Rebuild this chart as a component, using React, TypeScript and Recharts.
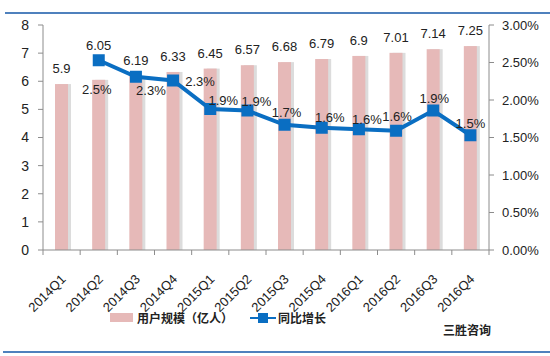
import { Bar, ComposedChart, LabelList, Line, XAxis, YAxis } from "recharts";

const quarters = [
  "2014Q1", "2014Q2", "2014Q3", "2014Q4",
  "2015Q1", "2015Q2", "2015Q3", "2015Q4",
  "2016Q1", "2016Q2", "2016Q3", "2016Q4",
];
// 用户规模（亿人）
const users = [5.9, 6.05, 6.19, 6.33, 6.45, 6.57, 6.68, 6.79, 6.9, 7.01, 7.14, 7.25];
// 同比增长 (%)
const growth = [null, 2.53, 2.31, 2.26, 1.88, 1.86, 1.67, 1.63, 1.61, 1.59, 1.86, 1.53];

const leftTicks = [0, 1, 2, 3, 4, 5, 6, 7, 8];
const rightTicks = [0, 0.5, 1, 1.5, 2, 2.5, 3];

// hand placed label offsets, like the excel original
const growthLabelOffset: [number, number][] = [
  [0, 0], [-2, 29], [15, 13], [27, 0], [13, -9], [9, -10],
  [2, -13], [8, -11], [8, -10], [1, -15], [1, -13], [0, -12],
];

const data = quarters.map((q, i) => ({ q, users: users[i], growth: growth[i] }));

const FONT = "'Liberation Sans', Arial, sans-serif";
const CJK = "'Noto Sans CJK SC', sans-serif";
const AXIS = "#8c8c8c";
const BAR = "#e6b9b8";
const LINE = "#0a6ec2";
const PLOT_W = 446;

const BarShape = (p: any) => {
  const { x, y, width, height } = p;
  return (
    <g>
      <rect x={x + 3} y={y} width={width} height={height} fill="#dcdcdc" />
      <rect x={x} y={y} width={width} height={height} fill={BAR} />
    </g>
  );
};

// category labels plus tick marks on the category boundaries
const XTick = ({ x, y, payload, index }: any) => {
  const half = PLOT_W / quarters.length / 2;
  const top = y - 8;
  return (
    <g>
      <line x1={x - half} y1={top} x2={x - half} y2={top + 5} stroke={AXIS} />
      {index === quarters.length - 1 && (
        <line x1={x + half} y1={top} x2={x + half} y2={top + 5} stroke={AXIS} />
      )}
      <text
        x={x + 5}
        y={y + 22}
        textAnchor="end"
        fontSize={13}
        fontFamily={FONT}
        fill="#222"
        transform={`rotate(-45 ${x + 5} ${y + 22})`}
      >
        {payload.value}
      </text>
    </g>
  );
};

const BarLabel = (p: any) => {
  const { x, y, width, value, index } = p;
  const lift = index === 1 ? 30 : 11;
  return (
    <text x={x + width / 2} y={y - lift} textAnchor="middle" fontSize={13} fontFamily={FONT} fill="#222">
      {value}
    </text>
  );
};

const GrowthLabel = (p: any) => {
  const { x, y, value, index } = p;
  if (value == null) return null;
  const [dx, dy] = growthLabelOffset[index];
  return (
    <text x={x + dx} y={y + dy + 5} textAnchor="middle" fontSize={13} fontFamily={FONT} fill="#222">
      {Number(value).toFixed(1) + "%"}
    </text>
  );
};

const Square = (p: any) => {
  const { cx, cy, index } = p;
  if (cx == null || cy == null || growth[index] == null) return <g key={index} />;
  return <rect key={index} x={cx - 6} y={cy - 6} width={12} height={12} fill={LINE} />;
};

export default function App() {
  return (
    <div style={{ position: "absolute", left: 0, top: 0, width: 550, height: 356, background: "#fff" }}>
      <div style={{ position: "absolute", left: 5, top: 12, width: 545, height: 2, background: "#4f81bd" }} />
      <div style={{ position: "absolute", left: 3, top: 351, width: 547, height: 2, background: "#4f81bd" }} />
      <ComposedChart
        width={550}
        height={356}
        data={data}
        margin={{ top: 25, right: 0, bottom: 46, left: 0 }}
      >
        <XAxis
          dataKey="q"
          height={60}
          stroke={AXIS}
          tickLine={false}
          interval={0}
          tick={<XTick />}
        />
        <YAxis
          yAxisId="left"
          width={43}
          domain={[0, 8]}
          ticks={leftTicks}
          interval={0}
          stroke={AXIS}
          tickSize={5}
          tickMargin={9}
          tick={{ fill: "#222", fontSize: 14, fontFamily: FONT }}
        />
        <YAxis
          yAxisId="right"
          orientation="right"
          width={61}
          domain={[0, 3]}
          ticks={rightTicks}
          interval={0}
          stroke={AXIS}
          tickSize={5}
          tickMargin={8}
          tickFormatter={(v: number) => v.toFixed(2) + "%"}
          tick={{ fill: "#222", fontSize: 13, fontFamily: FONT, textAnchor: "start" }}
        />
        <Bar
          yAxisId="left"
          dataKey="users"
          barSize={13}
          shape={<BarShape />}
          isAnimationActive={false}
        >
          <LabelList dataKey="users" content={<BarLabel />} />
        </Bar>
        <Line
          yAxisId="right"
          dataKey="growth"
          stroke={LINE}
          strokeWidth={4}
          dot={<Square />}
          activeDot={false}
          isAnimationActive={false}
        >
          <LabelList dataKey="growth" content={<GrowthLabel />} />
        </Line>
      </ComposedChart>
      <div
        style={{
          position: "absolute",
          left: 110,
          top: 309,
          display: "flex",
          alignItems: "center",
          fontFamily: CJK,
          fontSize: 12,
          fontWeight: 700,
          color: "#222",
        }}
      >
        <span style={{ display: "inline-block", width: 23, height: 9, background: BAR, marginRight: 4 }} />
        <span>用户规模（亿人）</span>
        <svg width={26} height={12} style={{ marginLeft: 17, marginRight: 2 }}>
          <line x1={0} y1={6} x2={26} y2={6} stroke={LINE} strokeWidth={2} />
          <rect x={8} y={1} width={10} height={10} fill={LINE} />
        </svg>
        <span>同比增长</span>
      </div>
      <div
        style={{
          position: "absolute",
          left: 443,
          top: 321,
          fontFamily: CJK,
          fontSize: 12,
          fontWeight: 700,
          color: "#222",
        }}
      >
        三胜咨询
      </div>
    </div>
  );
}
